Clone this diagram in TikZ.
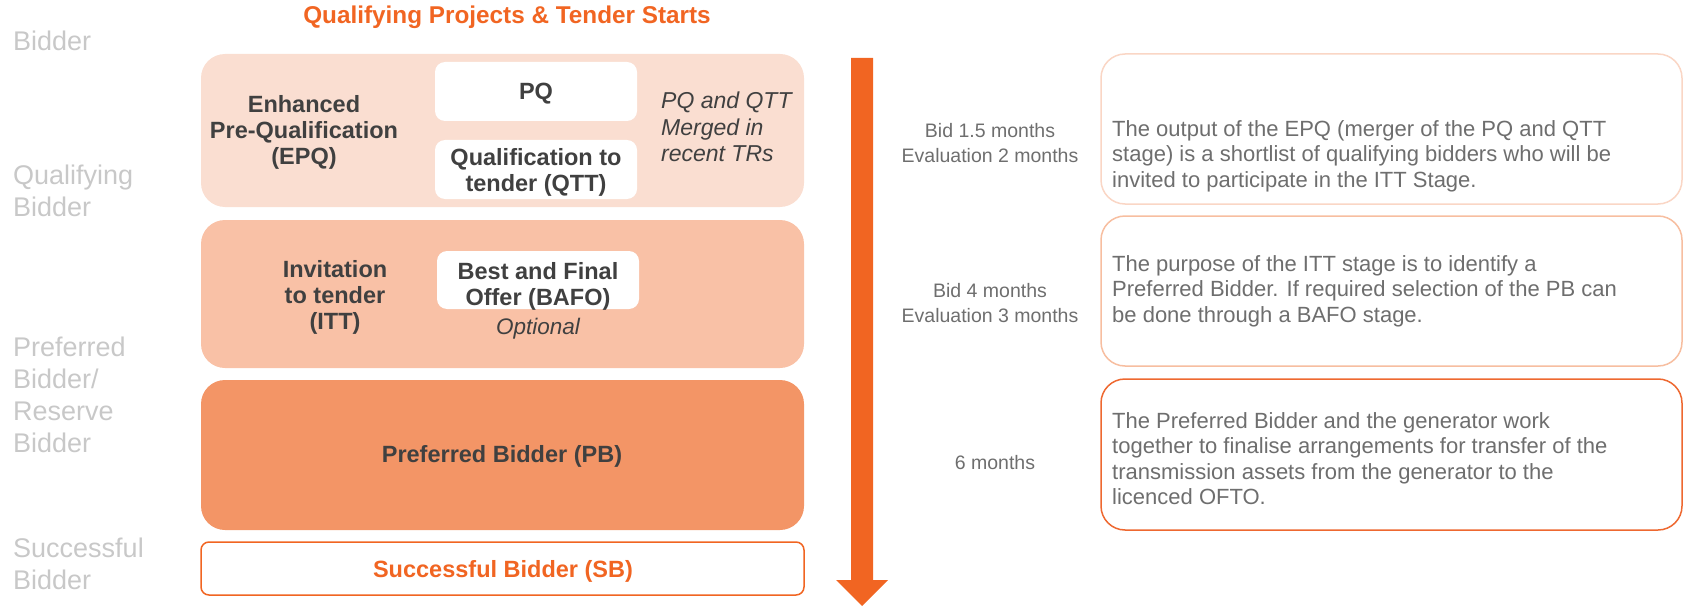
\documentclass[tikz,border=0pt]{standalone}
\usepackage{fontspec}
\setmainfont{Liberation Sans}
\definecolor{epqfill}{RGB}{250,222,209}
\definecolor{ittfill}{RGB}{249,193,166}
\definecolor{pbfill}{RGB}{243,149,102}
\definecolor{orng}{RGB}{241,101,34}
\definecolor{noteA}{RGB}{250,214,197}
\definecolor{noteB}{RGB}{247,190,160}
\definecolor{noteC}{RGB}{238,104,48}
\definecolor{darktxt}{RGB}{64,64,64}
\definecolor{desctxt}{RGB}{110,110,110}
\definecolor{sidetxt}{RGB}{200,200,200}
\newcommand{\myfs}[2]{\fontsize{#1}{#2}\selectfont}
\tikzset{
  stagebox/.style={rounded corners=24pt, minimum width=603pt, inner sep=0pt},
  whitebox/.style={fill=white, rounded corners=10pt, minimum width=202pt, inner sep=0pt},
  notebox/.style={draw, line width=1.5pt, fill=white, rounded corners=24pt, minimum width=581pt, inner sep=0pt},
  lbl/.style={text=darktxt, font=\bfseries\myfs{23.5}{26}, align=center},
  desc/.style={text=desctxt, font=\myfs{22}{25.5}, align=left, anchor=west, inner sep=0pt},
  timing/.style={text=desctxt, font=\myfs{19.5}{25}, align=center, inner sep=0pt},
  side/.style={text=sidetxt, font=\myfs{27}{32}, align=left, anchor=west, inner sep=0pt},
}
\begin{document}
\begin{tikzpicture}[x=1pt,y=-1pt]
\useasboundingbox (0,0) rectangle (1684,607);

% title
\node[text=orng, font=\bfseries\myfs{24.3}{27}] (title) at (507,17) {Qualifying Projects \& Tender Starts};

% left side labels
\node[side] (s1) at (13,41) {Bidder};
\node[side] (s2) at (13,191) {Qualifying\\Bidder};
\node[side] (s3) at (13,394.5) {Preferred\\Bidder/\\Reserve\\Bidder};
\node[side] (s4) at (13,563.5) {Successful\\Bidder};

% stage boxes
\node[stagebox, fill=epqfill, minimum height=153pt] (epq) at (502.5,130.5) {};
\node[stagebox, fill=ittfill, minimum height=148pt] (itt) at (502.5,294) {};
\node[stagebox, fill=pbfill, minimum height=150pt] (pb) at (502.5,455) {};
\node[draw=orng, line width=1.5pt, fill=white, rounded corners=8pt, minimum width=603pt, minimum height=53pt, inner sep=0pt] (sb) at (502.5,568.5) {};

% inner white boxes
\node[whitebox, minimum height=59pt] (pq) at (536,91.5) {};
\node[whitebox, minimum height=59pt] (qtt) at (536,169.5) {};
\node[whitebox, minimum height=58pt] (bafo) at (538,280) {};

% labels
\node[lbl] (epqt) at (304,132) {Enhanced\\Pre-Qualification\\(EPQ)};
\node[lbl] (pqt) at (536,94) {PQ};
\node[lbl] (qttt) at (536,172) {Qualification to\\tender (QTT)};
\node[text=darktxt, font=\itshape\myfs{23}{26.5}, align=left, anchor=west, inner sep=0pt] (merged) at (661,127) {PQ and QTT\\Merged in\\recent TRs};
\node[lbl] (ittt) at (335,297) {Invitation\\to tender\\(ITT)};
\node[lbl] (bafot) at (538,286) {Best and Final\\Offer (BAFO)};
\node[text=darktxt, font=\itshape\myfs{22.5}{26}] (opt) at (538,329) {Optional};
\node[lbl] (pbt) at (502,456) {Preferred Bidder (PB)};
\node[text=orng, font=\bfseries\myfs{23.5}{26}] (sbt) at (503,571) {Successful Bidder (SB)};

% arrow
\fill[orng] (851,58) -- (873,58) -- (873,580) -- (888,580) -- (862,606) -- (836,580) -- (851,580) -- cycle;

% timing
\node[timing] (t1) at (990,143) {Bid 1.5 months\\Evaluation 2 months};
\node[timing] (t2) at (990,303) {Bid 4 months\\Evaluation 3 months};
\node[timing] (t3) at (995,463) {6 months};

% note boxes
\node[notebox, draw=noteA, minimum height=150pt] (n1) at (1391.5,129) {};
\node[notebox, draw=noteB, minimum height=150pt] (n2) at (1391.5,291) {};
\node[notebox, draw=noteC, minimum height=151pt] (n3) at (1391.5,454.5) {};

\node[desc] (d1) at (1112,156) {The output of the EPQ (merger of the PQ and QTT\\stage) is a shortlist of qualifying bidders who will be\\invited to participate in the ITT Stage.};
\node[desc] (d2) at (1112,291) {The purpose of the ITT stage is to identify a\\Preferred Bidder. If required selection of the PB can\\be done through a BAFO stage.};
\node[desc] (d3) at (1112,458.5) {The Preferred Bidder and the generator work\\together to finalise arrangements for transfer of the\\transmission assets from the generator to the\\licenced OFTO.};
\end{tikzpicture}
\end{document}
